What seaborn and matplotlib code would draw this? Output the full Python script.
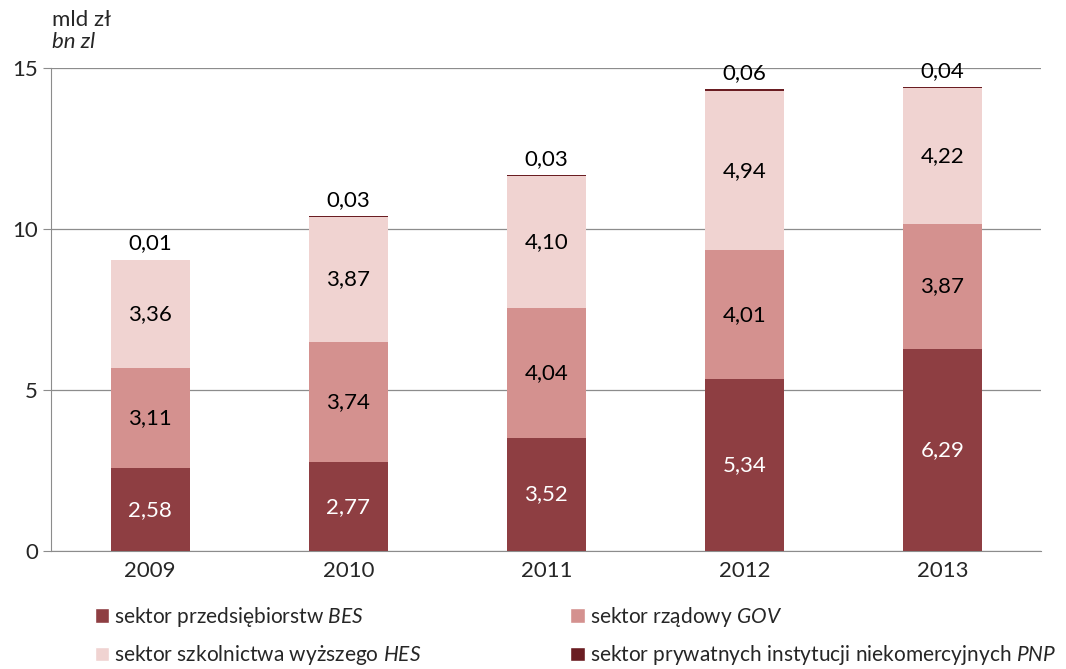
import seaborn as sns
import matplotlib.pyplot as plt
from matplotlib.patches import Patch

# Data
years = ['2009', '2010', '2011', '2012', '2013']
bes = [2.58, 2.77, 3.52, 5.34, 6.29]
gov = [3.11, 3.74, 4.04, 4.01, 3.87]
hes = [3.36, 3.87, 4.10, 4.94, 4.22]
pnp = [0.01, 0.03, 0.03, 0.06, 0.04]

labels = ['sektor przedsiębiorstw $\\it{BES}$',
          'sektor rządowy $\\it{GOV}$',
          'sektor szkolnictwa wyższego $\\it{HES}$',
          'sektor prywatnych instytucji niekomercyjnych $\\it{PNP}$']
colors = ['#8E3E42', '#D4918F', '#F0D3D1', '#6A1D22']

sns.set_style('white')
plt.rcParams['font.family'] = ['Lato', 'DejaVu Sans']
plt.rcParams['mathtext.fontset'] = 'custom'
plt.rcParams['mathtext.it'] = 'Lato:italic'
plt.rcParams['mathtext.rm'] = 'Lato'

FS = 16

fig = plt.figure(figsize=(10.66, 6.69), dpi=100)
ax = fig.add_axes([0.048, 0.176, 0.929, 0.722])

series = [bes, gov, hes, pnp]
bottom = [0] * len(years)
for vals, col in zip(series, colors):
    sns.barplot(x=years, y=vals, bottom=bottom, color=col, width=0.4,
                saturation=1, linewidth=0, edgecolor='none', ax=ax, zorder=3)
    bottom = [b + v for b, v in zip(bottom, vals)]

# value labels
fmt = lambda v: f'{v:.2f}'.replace('.', ',')
for i in range(len(years)):
    base = 0
    for k, vals in enumerate(series[:3]):
        ax.text(i, base + vals[i] / 2, fmt(vals[i]), ha='center', va='center',
                fontsize=FS, color='white' if k == 0 else 'black', zorder=5)
        base += vals[i]
    ax.text(i, base + pnp[i] + 0.5, fmt(pnp[i]), ha='center', va='center',
            fontsize=FS, color='black', zorder=5)

ax.set_xlim(-0.5, 4.5)
ax.set_ylim(0, 15)
ax.set_yticks([0, 5, 10, 15])
ax.yaxis.grid(True, color='#8c8c8c', linewidth=0.9, zorder=0)
for s in ['top', 'right']:
    ax.spines[s].set_visible(False)
for s in ['left', 'bottom']:
    ax.spines[s].set_color('#8c8c8c')
ax.set_xticks([-0.5, 0.5, 1.5, 2.5, 3.5, 4.5], minor=True)
ax.tick_params(axis='x', which='major', length=0, labelsize=FS, pad=7)
ax.tick_params(axis='x', which='minor', length=6, color='#8c8c8c', direction='out')
ax.tick_params(axis='y', length=6, color='#8c8c8c', labelsize=FS, direction='out', left=True)
ax.set_xlabel('')

fig.text(0.049, 0.955, 'mld zł', fontsize=FS, ha='left', va='bottom')
fig.text(0.049, 0.922, 'bn zl', fontsize=FS, style='italic', ha='left', va='bottom')

# legend: two columns placed separately
handles = [Patch(facecolor=c) for c in colors]
fig.legend([handles[0], handles[2]], [labels[0], labels[2]],
           loc='lower left', bbox_to_anchor=(0.081, -0.010),
           frameon=False, fontsize=15, handlelength=0.7, handleheight=0.7,
           handletextpad=0.25, labelspacing=0.7, borderaxespad=0)
fig.legend([handles[1], handles[3]], [labels[1], labels[3]],
           loc='lower left', bbox_to_anchor=(0.527, -0.010),
           frameon=False, fontsize=15, handlelength=0.7, handleheight=0.7,
           handletextpad=0.25, labelspacing=0.7, borderaxespad=0)

plt.savefig('out.png', dpi=100)
